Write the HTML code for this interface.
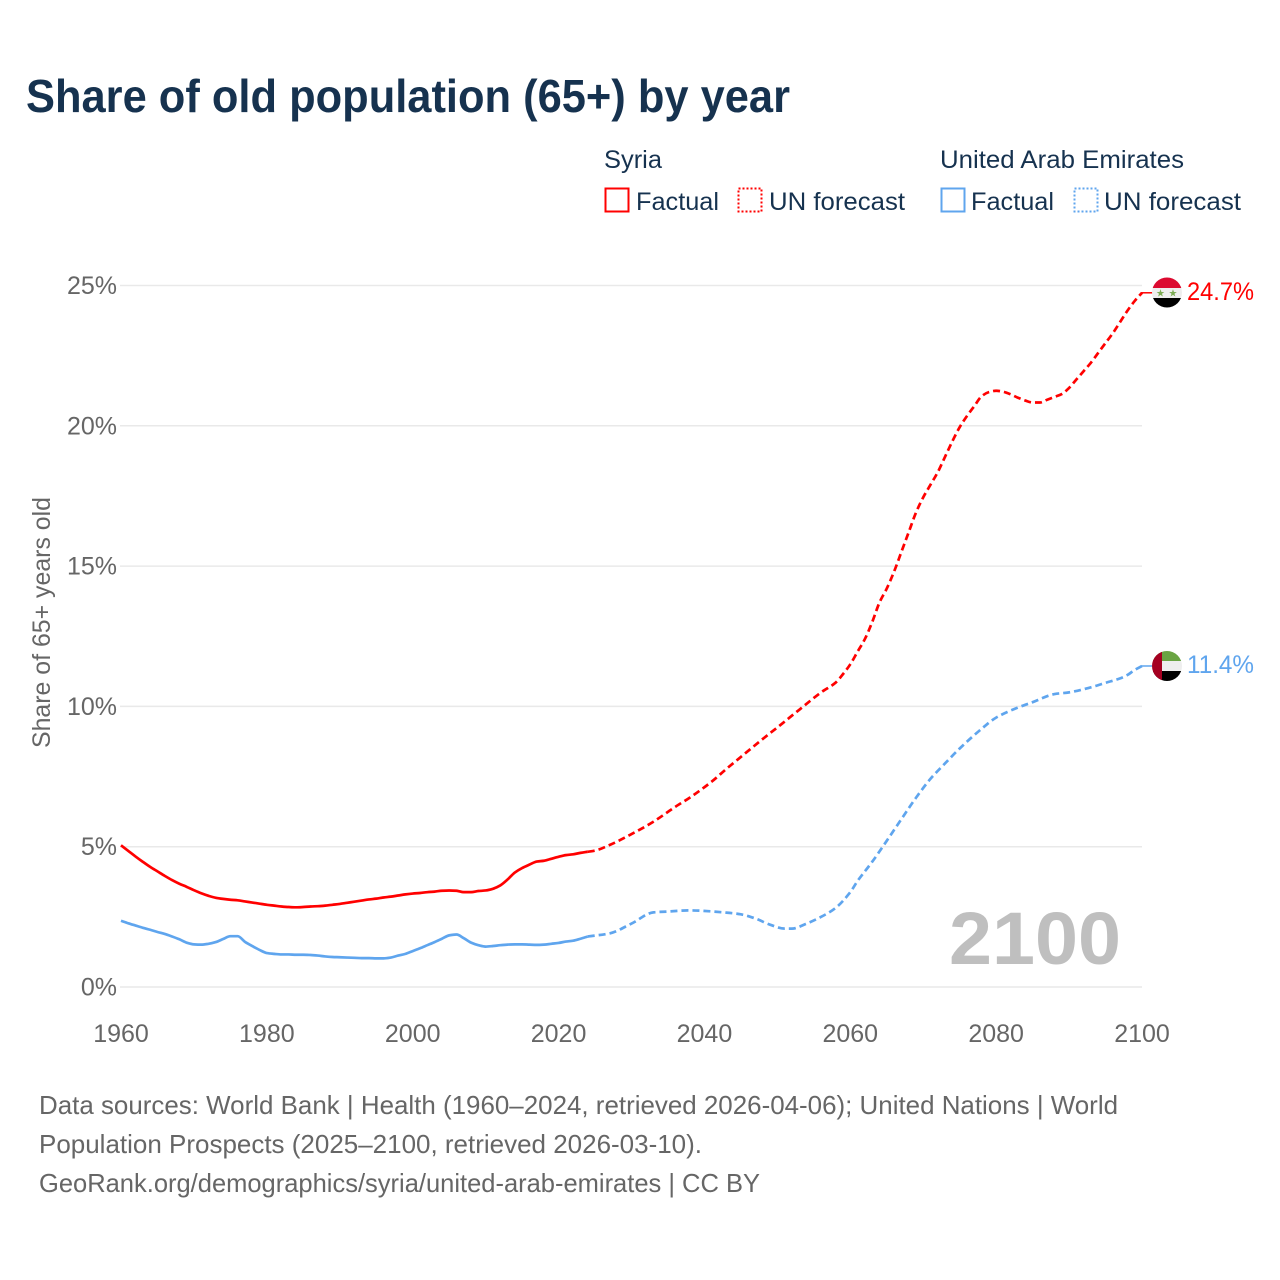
<!DOCTYPE html>
<html lang="en">
<head>
<meta charset="utf-8">
<title>Share of old population (65+) by year</title>
<style>
  html,body{margin:0;padding:0;background:#fff;}
  svg{display:block;font-family:"Liberation Sans",Arial,sans-serif;}
</style>
</head>
<body>
<svg id="chart" xmlns="http://www.w3.org/2000/svg" width="1280" height="1280" viewBox="0 0 1280 1280">
  <rect x="0" y="0" width="1280" height="1280" fill="#fff"/>
  <text x="26" y="112" font-size="46" font-weight="700" fill="#16324f" textLength="764" lengthAdjust="spacingAndGlyphs">Share of old population (65+) by year</text>

  <g font-size="25" fill="#16324f">
    <text x="604" y="168" textLength="58" lengthAdjust="spacingAndGlyphs">Syria</text>
    <g>
      <rect x="605.5" y="188.5" width="23" height="23" fill="none" stroke="#ff0000" stroke-width="2"/>
      <text x="636" y="210" textLength="83" lengthAdjust="spacingAndGlyphs">Factual</text>
    </g>
    <g>
      <rect x="738.5" y="188.5" width="23" height="23" fill="none" stroke="#ff0000" stroke-width="2" stroke-dasharray="2 2"/>
      <text x="769" y="210" textLength="136" lengthAdjust="spacingAndGlyphs">UN forecast</text>
    </g>
    <text x="940" y="168" textLength="244" lengthAdjust="spacingAndGlyphs">United Arab Emirates</text>
    <g>
      <rect x="941.5" y="188.5" width="23" height="23" fill="none" stroke="#5fa5ee" stroke-width="2"/>
      <text x="971" y="210" textLength="83" lengthAdjust="spacingAndGlyphs">Factual</text>
    </g>
    <g>
      <rect x="1074.5" y="188.5" width="23" height="23" fill="none" stroke="#5fa5ee" stroke-width="2" stroke-dasharray="2 2"/>
      <text x="1104" y="210" textLength="137" lengthAdjust="spacingAndGlyphs">UN forecast</text>
    </g>
  </g>

  <text transform="translate(50,622.5) rotate(-90)" text-anchor="middle" font-size="25" fill="#666" textLength="251" lengthAdjust="spacingAndGlyphs">Share of 65+ years old</text>
  <g id="grid"></g>
  <g id="yticks"></g>
  <g id="xticks"></g>

  <text x="949" y="964" font-size="74" font-weight="700" fill="#bfbfbf" textLength="172" lengthAdjust="spacingAndGlyphs">2100</text>

  <g id="series"></g>

  <g id="flag-syria">
    <clipPath id="clip-syria"><circle cx="1167" cy="292.5" r="15"/></clipPath>
    <g clip-path="url(#clip-syria)">
      <rect x="1150" y="277" width="34" height="11" fill="#dc0a30"/>
      <rect x="1150" y="288" width="34" height="10" fill="#eeeeee"/>
      <rect x="1150" y="298" width="34" height="11" fill="#000"/>
      <text x="1160.5" y="296.5" font-size="10" text-anchor="middle" fill="#7cab54">★</text>
      <text x="1173" y="296.5" font-size="10" text-anchor="middle" fill="#7cab54">★</text>
    </g>
  </g>
  <g id="flag-uae">
    <clipPath id="clip-uae"><circle cx="1167" cy="666" r="15"/></clipPath>
    <g clip-path="url(#clip-uae)">
      <rect x="1150" y="650" width="34" height="11" fill="#6aa443"/>
      <rect x="1150" y="661" width="34" height="10" fill="#eeeeee"/>
      <rect x="1150" y="671" width="34" height="11" fill="#000"/>
      <rect x="1150" y="650" width="12" height="32" fill="#a50021"/>
    </g>
  </g>
  <text x="1187" y="300" font-size="25" fill="#ff0000" textLength="67" lengthAdjust="spacingAndGlyphs">24.7%</text>
  <text x="1187" y="673" font-size="25" fill="#5fa5ee" textLength="67" lengthAdjust="spacingAndGlyphs">11.4%</text>

  <g font-size="26" fill="#666">
    <text x="39" y="1114" textLength="1079" lengthAdjust="spacingAndGlyphs">Data sources: World Bank | Health (1960–2024, retrieved 2026-04-06); United Nations | World</text>
    <text x="39" y="1153" textLength="663" lengthAdjust="spacingAndGlyphs">Population Prospects (2025–2100, retrieved 2026-03-10).</text>
    <text x="39" y="1192" textLength="721" lengthAdjust="spacingAndGlyphs">GeoRank.org/demographics/syria/united-arab-emirates | CC BY</text>
  </g>
</svg>
<script>
const yTickValues = [0, 5, 10, 15, 20, 25];
const xTickYears = [1960, 1980, 2000, 2020, 2040, 2060, 2080, 2100];
const factualStartYear = 1960;
const syriaFactual = [5.05,4.85,4.65,4.46,4.28,4.12,3.96,3.81,3.68,3.57,3.45,3.34,3.25,3.18,3.14,3.11,3.09,3.05,3.01,2.97,2.93,2.90,2.87,2.85,2.84,2.85,2.87,2.88,2.90,2.93,2.96,3.00,3.04,3.08,3.12,3.15,3.19,3.22,3.26,3.30,3.33,3.35,3.38,3.40,3.43,3.44,3.43,3.38,3.38,3.42,3.44,3.50,3.62,3.83,4.08,4.24,4.36,4.47,4.50,4.57,4.64,4.70,4.73,4.78,4.82];
const uaeFactual = [2.36,2.27,2.19,2.11,2.04,1.96,1.89,1.80,1.70,1.58,1.52,1.51,1.54,1.60,1.71,1.81,1.81,1.61,1.46,1.32,1.21,1.18,1.16,1.16,1.15,1.15,1.14,1.12,1.09,1.07,1.06,1.05,1.04,1.03,1.03,1.02,1.02,1.05,1.12,1.18,1.28,1.38,1.49,1.60,1.72,1.84,1.87,1.74,1.58,1.49,1.44,1.46,1.49,1.51,1.52,1.52,1.51,1.50,1.51,1.54,1.57,1.62,1.65,1.72,1.80];
const syriaForecastYears = [2024,2025,2027,2030,2033,2036,2038,2041,2043,2045,2048,2050,2053,2056,2058,2059,2060,2061,2062,2063,2064,2065,2066,2067,2068,2069,2070,2071,2072,2073,2074,2075,2076,2077,2078,2079,2080,2081,2082,2083,2084,2085,2086,2087,2088,2089,2090,2091,2092,2093,2094,2095,2096,2097,2098,2099,2100];
const syriaForecast = [4.82,4.86,5.06,5.45,5.89,6.42,6.75,7.32,7.77,8.2,8.84,9.25,9.88,10.5,10.85,11.15,11.5,11.95,12.4,13.0,13.7,14.2,14.8,15.5,16.2,16.9,17.45,17.9,18.35,18.9,19.45,19.95,20.35,20.7,21.05,21.2,21.25,21.21,21.12,21.0,20.9,20.83,20.83,20.93,21.03,21.13,21.35,21.65,21.95,22.25,22.6,22.95,23.3,23.7,24.1,24.45,24.74];
const uaeForecastYears = [2024,2027,2030,2033,2035,2038,2043,2045,2047,2049,2051,2052,2054,2056,2058,2060,2061,2063,2065,2067,2069,2071,2073,2075,2078,2080,2083,2085,2088,2090,2093,2095,2097,2098,2099,2100];
const uaeForecast = [1.80,1.91,2.26,2.66,2.69,2.73,2.65,2.59,2.44,2.22,2.08,2.08,2.26,2.5,2.82,3.38,3.78,4.46,5.21,5.98,6.74,7.42,7.97,8.5,9.2,9.6,9.96,10.15,10.44,10.5,10.68,10.84,11.0,11.12,11.3,11.44];

const SVGNS = 'http://www.w3.org/2000/svg';
const xScale = year => 121 + (year - 1960) * (1142 - 121) / 140;
const yScale = v => 987 - v * (987 - 285.5) / 25;

function makeEl(tag, parent) {
  const el = document.createElementNS(SVGNS, tag);
  parent.appendChild(el);
  return el;
}
// monotone cubic path through the points
function curvePath(pts) {
  const n = pts.length;
  const dx = [], m = [], t = [];
  for (let i = 0; i < n - 1; i++) {
    dx[i] = pts[i + 1][0] - pts[i][0];
    m[i] = (pts[i + 1][1] - pts[i][1]) / dx[i];
  }
  t[0] = m[0];
  t[n - 1] = m[n - 2];
  for (let i = 1; i < n - 1; i++) {
    t[i] = m[i - 1] * m[i] <= 0 ? 0 : 2 * m[i - 1] * m[i] / (m[i - 1] + m[i]);
  }
  let d = 'M' + pts[0][0].toFixed(2) + ',' + pts[0][1].toFixed(2);
  for (let i = 0; i < n - 1; i++) {
    const h = dx[i] / 3;
    d += 'C' + (pts[i][0] + h).toFixed(2) + ',' + (pts[i][1] + t[i] * h).toFixed(2) + ' ' +
      (pts[i + 1][0] - h).toFixed(2) + ',' + (pts[i + 1][1] - t[i + 1] * h).toFixed(2) + ' ' +
      pts[i + 1][0].toFixed(2) + ',' + pts[i + 1][1].toFixed(2);
  }
  return d;
}

const gridG = document.getElementById('grid');
const yG = document.getElementById('yticks');
const xG = document.getElementById('xticks');
const seriesG = document.getElementById('series');

yTickValues.forEach(v => {
  const line = makeEl('line', gridG);
  
  
  line.setAttribute('x1', xScale(1960) - 1);
  line.setAttribute('x2', xScale(2100));
  line.setAttribute('y1', yScale(v));
  line.setAttribute('y2', yScale(v));
  line.setAttribute('stroke', '#e9e9e9');
  line.setAttribute('stroke-width', '1.5');
  const label = makeEl('text', yG);
  
  
  label.setAttribute('x', 117);
  label.setAttribute('y', yScale(v) + 8.5);
  label.setAttribute('text-anchor', 'end');
  label.setAttribute('font-size', '25');
  label.setAttribute('fill', '#666');
  label.textContent = v + '%';
});

xTickYears.forEach(year => {
  const label = makeEl('text', xG);
  
  
  label.setAttribute('x', xScale(year));
  label.setAttribute('y', 1042);
  label.setAttribute('text-anchor', 'middle');
  label.setAttribute('font-size', '25');
  label.setAttribute('fill', '#666');
  label.textContent = year;
});

function toPoints(years, values) {
  return values.map((v, i) => [xScale(years ? years[i] : factualStartYear + i), yScale(v)]);
}

function drawSeries(name, color, factual, fYears, forecast) {
  const solid = makeEl('path', seriesG);
  
  
  solid.setAttribute('d', curvePath(toPoints(null, factual)));
  solid.setAttribute('fill', 'none');
  solid.setAttribute('stroke', color);
  solid.setAttribute('stroke-width', '2.7');
  const dashed = makeEl('path', seriesG);
  
  
  const pts = toPoints(fYears, forecast);
  dashed.setAttribute('d', curvePath(pts));
  dashed.setAttribute('fill', 'none');
  dashed.setAttribute('stroke', color);
  dashed.setAttribute('stroke-width', '2.7');
  dashed.setAttribute('stroke-dasharray', '7 4');
  const last = pts[pts.length - 1];
  const connector = makeEl('line', seriesG);
  
  
  connector.setAttribute('x1', last[0] - 1);
  connector.setAttribute('x2', last[0] + 11);
  connector.setAttribute('y1', last[1]);
  connector.setAttribute('y2', last[1]);
  connector.setAttribute('stroke', color);
  connector.setAttribute('stroke-width', '1.5');
}

drawSeries('syria', '#ff0000', syriaFactual, syriaForecastYears, syriaForecast);
drawSeries('uae', '#5fa5ee', uaeFactual, uaeForecastYears, uaeForecast);
</script>
</body>
</html>
